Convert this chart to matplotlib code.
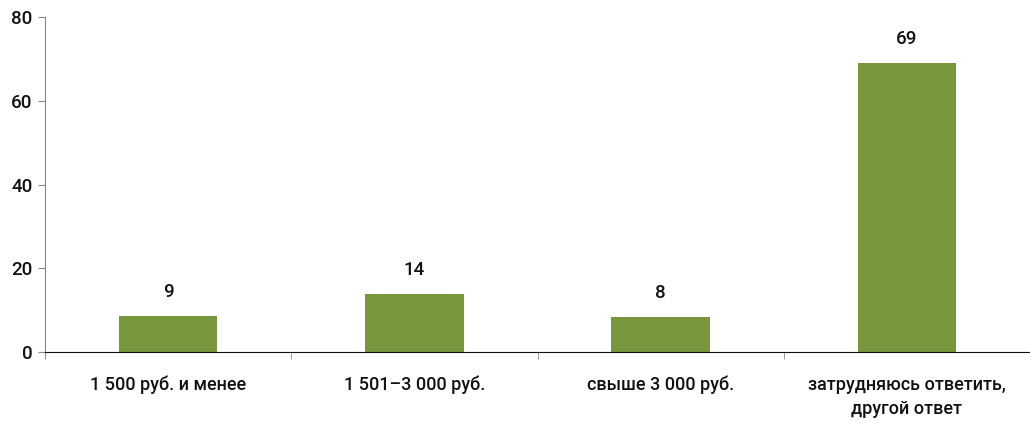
import matplotlib

matplotlib.use("Agg")
import matplotlib.pyplot as plt
import numpy as np

categories = ["1 500 руб. и менее", "1 501–3 000 руб.", "свыше 3 000 руб.",
              "затрудняюсь ответить,\nдругой ответ"]
values = [8.6, 13.9, 8.4, 69.0]
labels = ["9", "14", "8", "69"]
yticks = [0, 20, 40, 60, 80]

plt.rcParams["font.family"] = ["Roboto", "DejaVu Sans"]
plt.rcParams["font.weight"] = 500

fig = plt.figure(figsize=(10.3, 4.28), dpi=100)
ax = fig.add_axes([45 / 1030, 76 / 428, 985 / 1030, 335 / 428])

x = np.arange(len(categories))
bars = ax.bar(x, values, width=0.4, color="#78963c")
for b, lab in zip(bars, labels):
    ax.annotate(lab, (b.get_x() + b.get_width() / 2, b.get_height()),
                xytext=(0, 11), textcoords="offset points",
                ha="center", va="bottom", fontsize=13.5, color="#111111")

ax.set_xlim(-0.5, len(categories) - 0.5)
ax.set_ylim(0, 80)
ax.set_yticks(yticks)
ax.tick_params(axis="y", labelsize=13.5, length=5, color="#888888", pad=4,
               labelcolor="#111111")

# category labels centred, tick marks between categories
ax.set_xticks(x)
ax.set_xticklabels(categories, fontsize=13, linespacing=1.45, color="#111111")
ax.tick_params(axis="x", length=0, pad=17)
ax.set_xticks(np.arange(len(categories) + 1) - 0.5, minor=True)
ax.tick_params(axis="x", which="minor", length=5, color="#888888")

for s in ("top", "right"):
    ax.spines[s].set_visible(False)
ax.spines["left"].set_color("#888888")
ax.spines["left"].set_bounds(-1.2, 80)
ax.spines["bottom"].set_color("#111111")

fig.savefig("out.png", dpi=100)
